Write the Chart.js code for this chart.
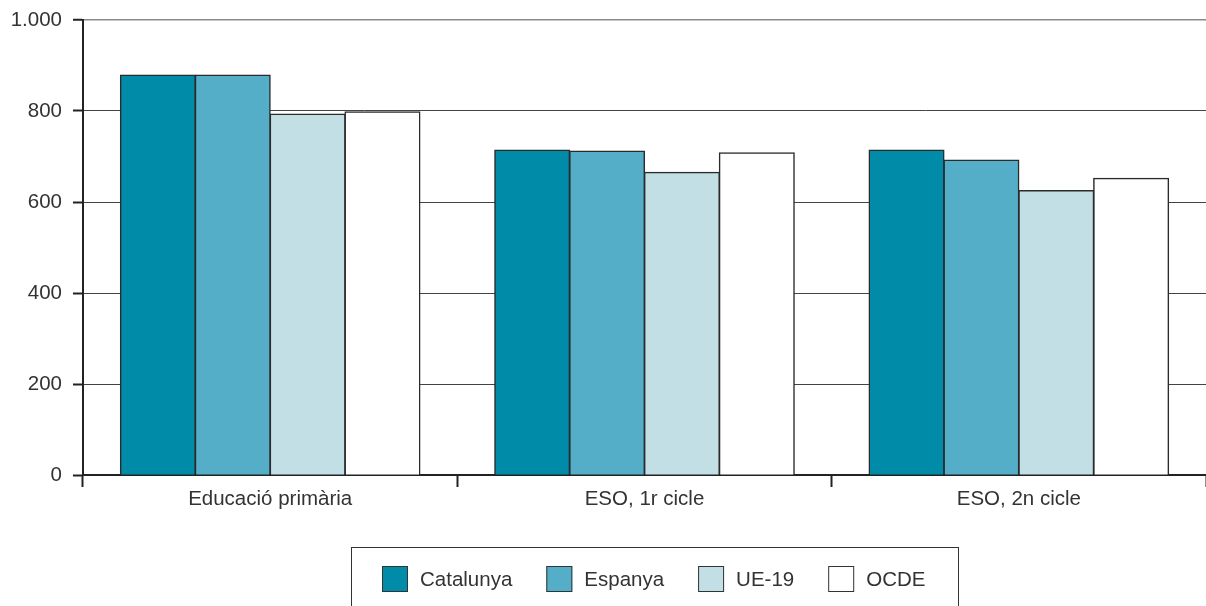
<!DOCTYPE html>
<html><head><meta charset="utf-8">
<script src="https://cdn.jsdelivr.net/npm/chart.js@4.4.1/dist/chart.umd.min.js"></script>
<style>html,body{margin:0;padding:0;background:#fff;}#wrap{width:1206px;height:606px;position:relative;}</style>
</head><body><div id="wrap"><canvas id="c" width="1206" height="606"></canvas></div>
<script>
const categories = ['Educació primària', 'ESO, 1r cicle', 'ESO, 2n cicle'];
const seriesNames = ['Catalunya', 'Espanya', 'UE-19', 'OCDE'];
const catalunya = [879, 714, 714];
const espanya = [879, 712, 692];
const ue19 = [793, 665, 625];
const ocde = [798, 708, 652];
const yTicks = [0, 200, 400, 600, 800, 1000];
const colors = ['#008ba8', '#55aec8', '#c3dfe6', '#ffffff'];

const FONT = "'Liberation Sans', Arial, sans-serif";
const FS = 20.5;
const TXT = '#333333';

function fmt(v){ return String(v).replace(/\B(?=(\d{3})+(?!\d))/g, '.'); }

const boxLegend = {
  id: 'boxLegend',
  afterDraw(chart){
    const ctx = chart.ctx;
    ctx.save();
    const bx = 351, by = 547, bw = 607, bh = 80;
    ctx.strokeStyle = '#333'; ctx.lineWidth = 1;
    ctx.strokeRect(bx + 0.5, by + 0.5, bw, bh);
    ctx.font = FS + 'px ' + FONT;
    const sq = 26, gapT = 12, gapI = 34;
    const ds = chart.data.datasets;
    let total = 0;
    ds.forEach((d, i) => { total += sq + gapT + ctx.measureText(d.label).width + (i < ds.length - 1 ? gapI : 0); });
    let x = Math.round(bx + (bw - total) / 2) - 1;
    const yc = 579;
    ds.forEach(d => {
      ctx.fillStyle = d.backgroundColor;
      ctx.fillRect(x, yc - sq/2, sq, sq);
      ctx.strokeStyle = '#333'; ctx.lineWidth = 1;
      ctx.strokeRect(x + 0.5, yc - sq/2 + 0.5, sq - 1, sq - 1);
      ctx.fillStyle = TXT; ctx.textBaseline = 'middle'; ctx.textAlign = 'left';
      ctx.fillText(d.label, x + sq + gapT, yc + 1);
      x += sq + gapT + ctx.measureText(d.label).width + gapI;
    });
    ctx.restore();
  }
};

new Chart(document.getElementById('c'), {
  type: 'bar',
  data: {
    labels: categories,
    datasets: [catalunya, espanya, ue19, ocde].map((arr, i) => ({
      label: seriesNames[i], data: arr, backgroundColor: colors[i],
      borderColor: '#2b2b2b', borderWidth: 1.5, inflateAmount: 0.6,
      categoryPercentage: 0.8, barPercentage: 1.0
    }))
  },
  options: {
    responsive: false, animation: false,
    layout: { padding: { top: 20, right: 0, bottom: 91, left: 0 } },
    plugins: { legend: { display: false }, tooltip: { enabled: false } },
    scales: {
      x: {
        grid: { offset: true, drawOnChartArea: false, drawTicks: true, tickLength: 12, tickColor: '#222', tickWidth: 2 },
        border: { color: '#222', width: 2 },
        ticks: { color: TXT, font: { family: FONT, size: FS }, padding: 0 },
        afterFit(s){ s.height = 40; s.paddingLeft = 0; s.paddingRight = 0; }
      },
      y: {
        min: 0, max: 1000,
        afterBuildTicks(s){ s.ticks = yTicks.map(v => ({ value: v })); },
        grid: { color: (c) => c.tick && c.tick.value === 1000 ? '#8a8a8a' : '#444', lineWidth: (c) => c.tick && c.tick.value === 1000 ? 1.5 : 1, drawTicks: true, tickLength: 10, tickColor: '#222', tickWidth: 2 },
        border: { color: '#222', width: 2 },
        ticks: { color: TXT, font: { family: FONT, size: FS }, padding: 11, callback: (v) => fmt(v) },
        afterFit(s){ s.width = 83; s.paddingTop = 0; s.paddingBottom = 0; }
      }
    }
  },
  plugins: [boxLegend]
});
</script></body></html>
